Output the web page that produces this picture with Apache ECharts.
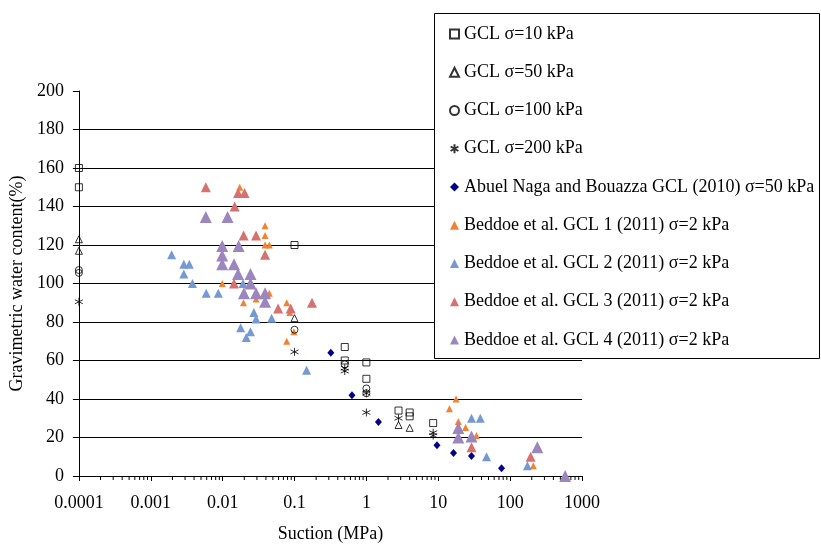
<!DOCTYPE html>
<html>
<head>
<meta charset="utf-8">
<script src="https://cdn.jsdelivr.net/npm/echarts@6/dist/echarts.min.js"></script>
<style>
  html, body { margin: 0; padding: 0; background: #fff; }
  #chart { width: 821px; height: 548px; }
</style>
</head>
<body>
<div id="chart"></div>
<script>
// Suction (MPa) vs gravimetric water content (%) for several GCL datasets
const seriesNames = [
  'GCL σ=10 kPa',
  'GCL σ=50 kPa',
  'GCL σ=100 kPa',
  'GCL σ=200 kPa',
  'Abuel Naga and Bouazza GCL (2010) σ=50 kPa',
  'Beddoe et al. GCL 1 (2011) σ=2 kPa',
  'Beddoe et al. GCL 2 (2011) σ=2 kPa',
  'Beddoe et al. GCL 3 (2011) σ=2 kPa',
  'Beddoe et al. GCL 4 (2011) σ=2 kPa'
];

// [suction MPa, water content %]
const gcl10 = [[0.0001,160],[0.0001,150],[0.1,120],[0.5,67],[0.5,60],[1,59],[1,50.5],[2.8,34],[4,33],[4,31],[8.5,27.5]];
const gcl50 = [[0.0001,123],[0.0001,117],[0.1,82],[2.8,26.5],[4,25]];
const gcl100 = [[0.0001,107],[0.0001,105.5],[0.1,76],[0.5,58],[1,45.5],[1,43]];
const gcl200 = [[0.0001,90.5],[0.1,64.5],[0.5,56],[0.5,54.5],[1,43],[1,33],[2.8,30],[8.5,22.5],[8.5,21]];
const abuelNaga = [[0.32,64],[0.63,42],[1.47,28],[9.6,16],[16.3,12],[29,10.4],[76,4]];
const beddoe1 = [[0.0099,100],[0.0173,150],[0.0195,90],[0.0292,92],[0.0389,130],[0.0389,125],[0.0389,120],[0.0446,120],
  [0.0446,95],[0.078,90],[0.086,85],[0.098,75],[0.078,70],[17.7,40],[14.3,35],[19,28.3],[24,25.2],[34,21],[210,5.3]];
const beddoe2 = [[0.00195,115],[0.00288,110],[0.00344,110],[0.00288,105],[0.0038,100],[0.0059,95],[0.0087,95],[0.0192,100],
  [0.0178,77],[0.0213,72],[0.0244,75],[0.0272,85],[0.0292,81.5],[0.048,82],[0.147,55],[29,30],[38.5,30],[47,10],[174,5.3]];
const beddoe3 = [[0.00583,150],[0.0164,147],[0.0202,147],[0.0147,140],[0.0196,125],[0.0292,125],[0.0389,115],[0.0144,100],
  [0.0592,87],[0.0885,87],[0.175,90],[29,15],[193,10]];
const beddoe4 = [[0.00583,134.5],[0.0117,134.5],[0.00986,119.5],[0.0167,119.5],[0.00986,114.5],[0.00986,110],[0.0144,110],
  [0.0164,105],[0.0244,105],[0.0244,100],[0.0198,95],[0.0292,95],[0.0389,95],[0.0389,90.5],[19,25],[19,20],[29,20.5],[239,15],[583,0]];

const yTicks = { min: 0, max: 200, step: 20 };
const xDecades = { min: 0.0001, max: 1000 };

// minor tick positions of the log axis (2..9 in every decade)
const minorTicks = [];
for (let e = -4; e < 3; e++) {
  for (let k = 2; k <= 9; k++) minorTicks.push([k * Math.pow(10, e), 0]);
}

const FONT = "'Liberation Serif', 'Times New Roman', serif";
const FS = 18;
const asterisk = 'path://M5,0L5,10M0.67,2.5L9.33,7.5M9.33,2.5L0.67,7.5';

function hollow(name, data, symbol, size) {
  return {
    name, type: 'scatter', data, symbol, symbolSize: size,
    itemStyle: { color: 'rgba(255,255,255,0)', borderColor: '#000', borderWidth: 1 },
    emphasis: { disabled: true }, z: 3
  };
}
function filled(name, data, symbol, size, color) {
  return {
    name, type: 'scatter', data, symbol, symbolSize: size,
    itemStyle: { color, opacity: 1 },
    emphasis: { disabled: true }, z: 2
  };
}

const chart = echarts.init(document.getElementById('chart'), null, { renderer: 'canvas' });

chart.setOption({
  animation: false,
  backgroundColor: '#fff',
  textStyle: { fontFamily: FONT },
  grid: { left: 72, right: 239, top: 91, bottom: 66, containLabel: false },
  xAxis: {
    type: 'log', logBase: 10, min: xDecades.min, max: xDecades.max,
    name: 'Suction (MPa)', nameLocation: 'middle', nameGap: 49,
    nameTextStyle: { fontFamily: FONT, fontSize: FS, color: '#000' },
    axisLine: { lineStyle: { color: '#000', width: 1 } },
    axisTick: { show: true, inside: false, length: 5, lineStyle: { color: '#000' } },
    axisLabel: {
      fontFamily: FONT, fontSize: FS, color: '#000', margin: 18,
      formatter: v => String(Number(Number(v).toPrecision(1)))
    },
    splitLine: { show: false }
  },
  yAxis: {
    type: 'value', min: yTicks.min, max: yTicks.max, interval: yTicks.step,
    name: 'Gravimetric water content(%)', nameLocation: 'middle', nameGap: 41,
    nameTextStyle: { fontFamily: FONT, fontSize: FS, color: '#000' },
    axisLine: { show: true, lineStyle: { color: '#000', width: 1 } },
    axisTick: { show: true, inside: false, length: 6, lineStyle: { color: '#000' } },
    axisLabel: { fontFamily: FONT, fontSize: FS, color: '#000', margin: 15 },
    splitLine: { show: true, showMaxLine: false, lineStyle: { color: '#000', width: 1 } }
  },
  legend: {
    orient: 'vertical', left: 449, top: 25, padding: 0, itemGap: 20.25,
    itemWidth: 9, itemHeight: 9, selectedMode: false, z: 10,
    textStyle: { fontFamily: FONT, fontSize: FS, color: '#000', lineHeight: 18 },
    data: seriesNames
  },
  graphic: [{
    type: 'rect', z: 8, silent: true,
    shape: { x: 434.5, y: 13.5, width: 385, height: 345 },
    style: { fill: '#fff', stroke: '#000', lineWidth: 1 }
  }],
  series: [
    {
      type: 'custom', silent: true, data: minorTicks, z: 1,
      renderItem: (params, api) => {
        const p = api.coord([api.value(0), 0]);
        return { type: 'line', shape: { x1: p[0], y1: p[1], x2: p[0], y2: p[1] + 4 },
                 style: { stroke: '#000', lineWidth: 1 } };
      }
    },
    hollow(seriesNames[0], gcl10, 'rect', 7),
    hollow(seriesNames[1], gcl50, 'triangle', 7),
    hollow(seriesNames[2], gcl100, 'circle', 7),
    hollow(seriesNames[3], gcl200, asterisk, 8),
    filled(seriesNames[4], abuelNaga, 'diamond', [7, 8], '#00008B'),
    filled(seriesNames[5], beddoe1, 'triangle', 7, '#F4812F'),
    filled(seriesNames[6], beddoe2, 'triangle', 9, '#7599D2'),
    filled(seriesNames[7], beddoe3, 'triangle', 10, '#D5716F'),
    filled(seriesNames[8], beddoe4, 'triangle', 12, '#9C86BE')
  ]
});
</script>
</body>
</html>
